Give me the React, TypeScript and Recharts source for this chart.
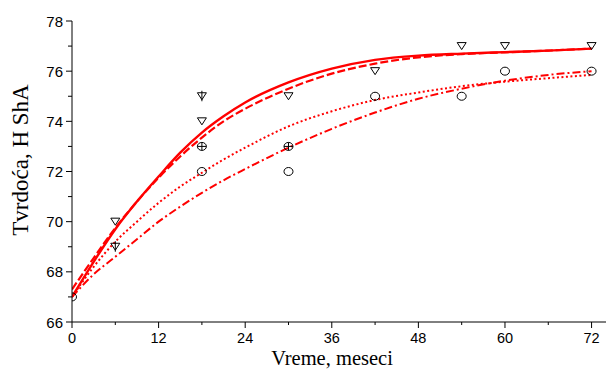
import React from 'react';
import { ComposedChart, Line, Scatter, XAxis, YAxis, Label } from 'recharts';

// Fitted curves at these months
const months = [0, 3, 6, 9, 12, 15, 18, 21, 24, 30, 36, 42, 48, 54, 60, 66, 72];
const solidFit = [67.0, 68.4, 69.7, 70.8, 71.8, 72.75, 73.55, 74.2, 74.75, 75.55, 76.1, 76.45, 76.62, 76.7, 76.76, 76.82, 76.9];
const dashedFit = [67.3, 68.55, 69.75, 70.8, 71.75, 72.6, 73.35, 74.0, 74.5, 75.3, 75.9, 76.3, 76.55, 76.68, 76.75, 76.82, 76.9];
const dottedFit = [67.0, 68.2, 69.2, 70.0, 70.75, 71.4, 71.95, 72.48, 72.95, 73.8, 74.4, 74.85, 75.15, 75.4, 75.58, 75.72, 75.85];
const dashDotFit = [67.0, 67.9, 68.6, 69.3, 70.0, 70.6, 71.15, 71.65, 72.1, 72.95, 73.7, 74.35, 74.9, 75.3, 75.62, 75.85, 76.0];

// Measured points
const trianglePts: [number, number][] = [[6, 70], [18, 74], [30, 75], [42, 76], [54, 77], [60, 77], [72, 77]];
const trianglePlusPts: [number, number][] = [[6, 69], [18, 75]];
const circlePts: [number, number][] = [[0, 67], [18, 72], [30, 72], [42, 75], [54, 75], [60, 76], [72, 76]];
const circlePlusPts: [number, number][] = [[18, 73], [30, 73]];

const xTicks = [0, 6, 12, 18, 24, 30, 36, 42, 48, 54, 60, 66, 72];
const yTicks = [66, 67, 68, 69, 70, 71, 72, 73, 74, 75, 76, 77, 78];

const lineData = months.map((m, i) => ({
  x: m,
  solid: solidFit[i],
  dashed: dashedFit[i],
  dotted: dottedFit[i],
  dashDot: dashDotFit[i],
}));

const toXY = (arr: [number, number][]) => arr.map(([x, y]) => ({ x, y }));

const SANS = '"Liberation Sans", Arial, sans-serif';
const SERIF = '"Liberation Serif", "Times New Roman", serif';

const XTick = (props: any) => {
  const { x, y, payload } = props;
  const major = payload.value % 12 === 0;
  return (
    <g>
      <line x1={x} x2={x} y1={y} y2={y + (major ? 6 : 3)} stroke="#000" strokeWidth={1} />
      {major && (
        <text x={x} y={y + 20.5} textAnchor="middle" fontFamily={SANS} fontSize={14.5} fill="#000">
          {payload.value}
        </text>
      )}
    </g>
  );
};

const YTick = (props: any) => {
  const { x, y, payload } = props;
  const major = payload.value % 2 === 0;
  return (
    <g>
      <line x1={x} x2={x - (major ? 6 : 4)} y1={y} y2={y} stroke="#000" strokeWidth={1} />
      {major && (
        <text x={x - 9} y={y + 5.5} textAnchor="end" fontFamily={SANS} fontSize={15} fill="#000">
          {payload.value}
        </text>
      )}
    </g>
  );
};

const TriangleShape = (props: any) => {
  const { cx, cy } = props;
  return (
    <path
      d={`M${cx - 4.5},${cy - 3.5} L${cx + 4.5},${cy - 3.5} L${cx},${cy + 3.5} Z`}
      fill="none"
      stroke="#000"
      strokeWidth={1}
    />
  );
};

const TrianglePlusShape = (props: any) => {
  const { cx, cy } = props;
  return (
    <g>
      <path
        d={`M${cx - 4.5},${cy - 3.5} L${cx + 4.5},${cy - 3.5} L${cx},${cy + 3.5} Z`}
        fill="none"
        stroke="#000"
        strokeWidth={1}
      />
      <line x1={cx} x2={cx} y1={cy - 5.5} y2={cy + 5} stroke="#000" strokeWidth={1} />
    </g>
  );
};

const CircleShape = (props: any) => {
  const { cx, cy } = props;
  return <ellipse cx={cx} cy={cy} rx={4.5} ry={4} fill="none" stroke="#000" strokeWidth={1} />;
};

const CirclePlusShape = (props: any) => {
  const { cx, cy } = props;
  return (
    <g>
      <ellipse cx={cx} cy={cy} rx={4.5} ry={4} fill="none" stroke="#000" strokeWidth={1} />
      <line x1={cx - 4.5} x2={cx + 4.5} y1={cy} y2={cy} stroke="#000" strokeWidth={1} />
      <line x1={cx} x2={cx} y1={cy - 4} y2={cy + 4} stroke="#000" strokeWidth={1} />
    </g>
  );
};

export default function App() {
  return (
    <div style={{ position: 'absolute', left: 0, top: 0, background: '#fff' }}>
      <ComposedChart
        width={606}
        height={369}
        data={lineData}
        margin={{ top: 21, right: 0, bottom: 0, left: 0 }}
      >
        <XAxis
          type="number"
          dataKey="x"
          domain={[0, 74]}
          ticks={xTicks}
          interval={0}
          tickSize={0}
          tickMargin={0}
          tickLine={false}
          tick={<XTick />}
          axisLine={{ stroke: '#000', strokeWidth: 1 }}
          height={47}
          allowDataOverflow
        >
          <Label
            content={() => (
              <text x={332} y={364.5} textAnchor="middle" fontFamily={SERIF} fontSize={20.5} fill="#000">
                Vreme, meseci
              </text>
            )}
          />
        </XAxis>
        <YAxis
          type="number"
          domain={[66, 78]}
          ticks={yTicks}
          interval={0}
          tickSize={0}
          tickMargin={0}
          tickLine={false}
          tick={<YTick />}
          axisLine={{ stroke: '#000', strokeWidth: 1 }}
          width={72}
          allowDataOverflow
        >
          <Label
            content={() => (
              <text
                x={28}
                y={160}
                textAnchor="middle"
                transform="rotate(-90 28 160)"
                fontFamily={SERIF}
                fontSize={23}
                fill="#000"
              >
                Tvrdoća, H ShA
              </text>
            )}
          />
        </YAxis>
        <Line type="monotone" dataKey="dashDot" stroke="#ff0000" strokeWidth={2} strokeDasharray="8 3 2 3" dot={false} isAnimationActive={false} />
        <Line type="monotone" dataKey="dotted" stroke="#ff0000" strokeWidth={2} strokeDasharray="2 2.5" dot={false} isAnimationActive={false} />
        <Line type="monotone" dataKey="dashed" stroke="#ff0000" strokeWidth={2.2} strokeDasharray="8 3" dot={false} isAnimationActive={false} />
        <Line type="monotone" dataKey="solid" stroke="#ff0000" strokeWidth={2.4} dot={false} isAnimationActive={false} />
        <Scatter data={toXY(trianglePts)} dataKey="y" shape={<TriangleShape />} isAnimationActive={false} />
        <Scatter data={toXY(trianglePlusPts)} dataKey="y" shape={<TrianglePlusShape />} isAnimationActive={false} />
        <Scatter data={toXY(circlePts)} dataKey="y" shape={<CircleShape />} isAnimationActive={false} />
        <Scatter data={toXY(circlePlusPts)} dataKey="y" shape={<CirclePlusShape />} isAnimationActive={false} />
      </ComposedChart>
    </div>
  );
}
